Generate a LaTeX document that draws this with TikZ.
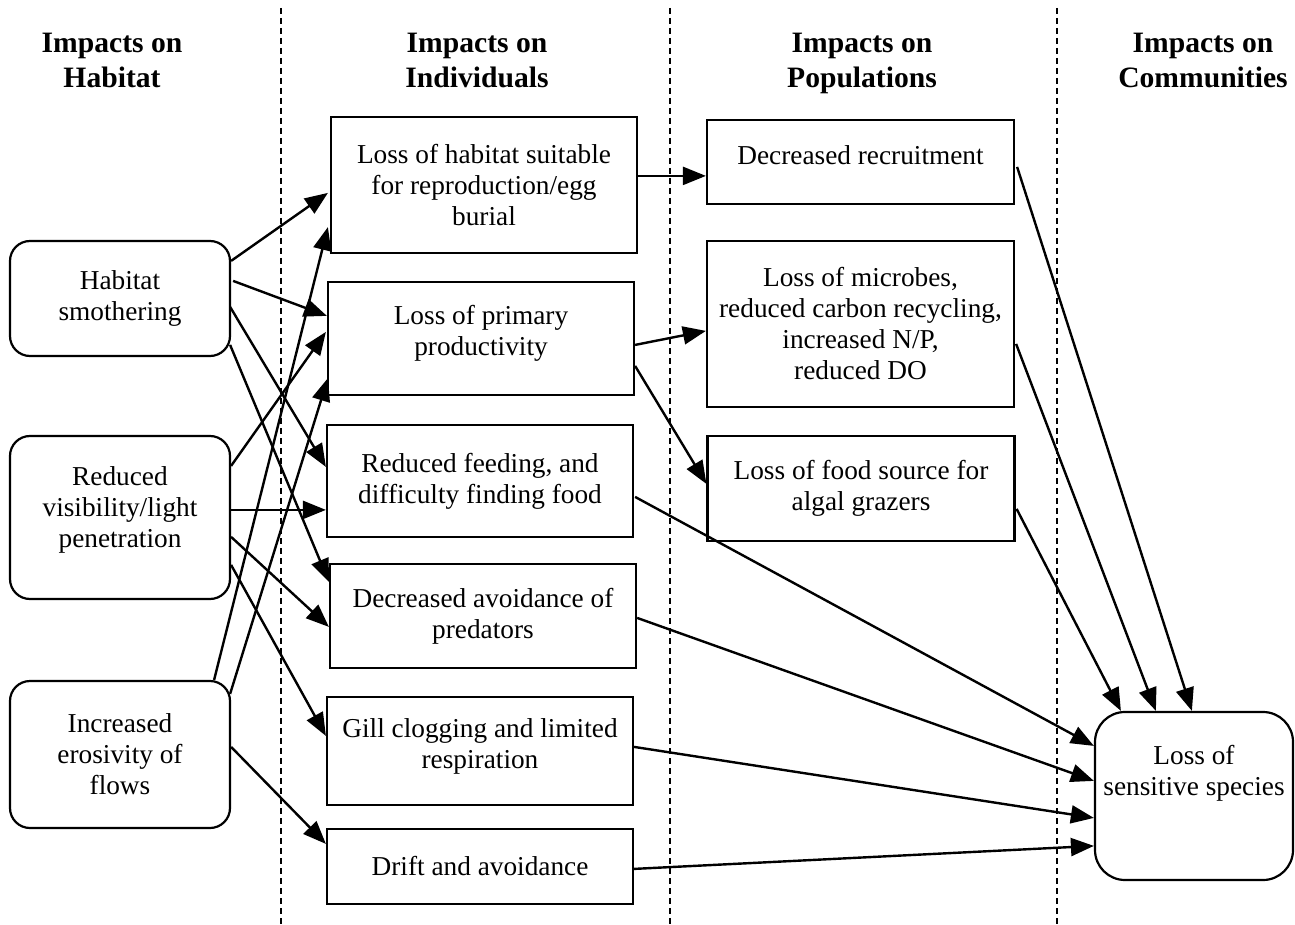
\documentclass[tikz,border=0pt]{standalone}
\usepackage{fontspec}
\setmainfont{Liberation Serif}
\usetikzlibrary{arrows.meta,calc}
\newcommand{\bodyfont}{\fontsize{27.3}{31}\selectfont}
\newcommand{\headfont}{\fontsize{29.6}{35}\selectfont\bfseries}
\begin{document}
\begin{tikzpicture}[x=1pt,y=-1pt,
  txt/.style={font=\bodyfont, align=center, inner sep=0pt},
  lbox/.style={draw, line width=2.2pt, rounded corners=20pt, inner sep=0pt, align=center, font=\bodyfont, minimum width=220pt},
  ibox/.style={draw, line width=2.2pt, inner sep=0pt, align=center, font=\bodyfont, minimum width=306pt},
  pbox/.style={draw, line width=2.2pt, inner sep=0pt, align=center, font=\bodyfont, minimum width=307pt},
  cbox/.style={draw, line width=2.2pt, rounded corners=30pt, inner sep=0pt, align=center, font=\bodyfont},
  head/.style={font=\headfont, anchor=base, inner sep=0pt},
  arr/.style={line width=2.4pt, -{Triangle[length=23pt,width=18pt]}},
  sepline/.style={line width=2pt, dash pattern=on 6pt off 4pt}
]
\useasboundingbox (0,0) rectangle (1295,925);

% separators
\coordinate (s1t) at (281,8);   \coordinate (s1b) at (281,925);
\coordinate (s2t) at (670,8);   \coordinate (s2b) at (670,925);
\coordinate (s3t) at (1057,8);  \coordinate (s3b) at (1057,925);
\draw[sepline] (s1t) -- (s1b);
\draw[sepline] (s2t) -- (s2b);
\draw[sepline] (s3t) -- (s3b);

% headings
\node[head] (h1a) at (112,53) {Impacts on};
\node[head] (h1b) at (112,88) {Habitat};
\node[head] (h2a) at (477,53) {Impacts on};
\node[head] (h2b) at (477,88) {Individuals};
\node[head] (h3a) at (862,53) {Impacts on};
\node[head] (h3b) at (862,88) {Populations};
\node[head] (h4a) at (1203,53) {Impacts on};
\node[head] (h4b) at (1203,88) {Communities};

% habitat
\node[lbox, minimum height=115pt] (hs) at (120,298.5) {Habitat\\smothering};
\node[lbox, minimum height=163pt, label={[txt,yshift=8pt]center:Reduced\\visibility/light\\penetration}] (rv) at (120,517.5) {};
\node[lbox, minimum height=147pt] (ie) at (120,754.5) {Increased\\erosivity of\\flows};

% individuals
\node[ibox, minimum height=136pt] (lh) at (484,185) {Loss of habitat suitable\\for reproduction/egg\\burial};
\node[ibox, minimum height=113pt, label={[txt,yshift=5pt]center:Loss of primary\\productivity}] (lp) at (481,338.5) {};
\node[ibox, minimum height=112pt] (rf) at (480,481) {Reduced feeding, and\\difficulty finding food};
\node[ibox, minimum height=104pt] (da) at (483,616) {Decreased avoidance of\\predators};
\node[ibox, minimum height=108pt, label={[txt,yshift=5pt]center:Gill clogging and limited\\respiration}] (gc) at (480,751) {};
\node[ibox, minimum height=75pt] (dr) at (480,866.5) {Drift and avoidance};

% populations
\node[pbox, minimum height=84pt, label={[txt,yshift=7pt]center:Decreased recruitment}] (rc) at (860.5,162) {};
\node[pbox, minimum height=166pt] (mi) at (860.5,324) {Loss of microbes,\\reduced carbon recycling,\\increased N/P,\\reduced DO};
\node[pbox, minimum height=105pt] (fs) at (861,488.5) {Loss of food source for\\algal grazers};

% communities
\node[cbox, minimum width=198pt, minimum height=168pt, label={[txt,yshift=23pt]center:Loss of\\sensitive species}] (ls) at (1194,796) {};

% habitat -> individuals
\draw[arr] ($(hs.north east)+(0,21)$)  -- ($(lh.north west)+(-2,77)$);
\draw[arr] ($(hs.north east)+(2,41)$)  -- ($(lp.north west)+(0,35)$);
\draw[arr] ($(hs.north east)+(-1,67)$) -- ($(rf.north west)+(0,43)$);
\draw[arr] ($(hs.north east)+(-1,105)$) -- ($(da.north west)+(0,19)$);
\draw[arr] ($(rv.north east)+(0,31)$)  -- ($(lp.north west)+(-1,51)$);
\draw[arr] ($(rv.north east)+(0,75)$)  -- ($(rf.north west)+(0,86)$);
\draw[arr] ($(rv.north east)+(0,102)$) -- ($(da.north west)+(0,64)$);
\draw[arr] ($(rv.north east)+(0,130)$) -- ($(gc.north west)+(0,40)$);
\draw[arr] ($(ie.north east)+(-17,0)$) -- ($(lh.south west)+(-2,-27)$);
\draw[arr] ($(ie.north east)+(-1,14)$) -- ($(lp.south west)+(1,-18)$);
\draw[arr] ($(ie.north east)+(0,67)$)  -- ($(dr.north west)+(0,16)$);

% individuals -> populations
\draw[arr] ($(lh.north east)+(0,60)$) -- ($(rc.north west)+(0,57)$);
\draw[arr] ($(lp.north east)+(0,64)$) -- ($(mi.north west)+(0,91)$);
\draw[arr] ($(lp.north east)+(0,85)$) -- ($(fs.north west)+(0,49)$);

% -> communities
\draw[arr] ($(rc.north east)+(2,48)$)  -- ($(ls.north west)+(98,0)$);
\draw[arr] ($(mi.north east)+(1,104)$) -- ($(ls.north west)+(62,0)$);
\draw[arr] ($(fs.north east)+(1,74)$)  -- ($(ls.north west)+(27,0)$);
\draw[arr] ($(rf.north east)+(1,73)$)  -- ($(ls.north west)+(0,35)$);
\draw[arr] ($(da.north east)+(0,55)$)  -- ($(ls.north west)+(0,70)$);
\draw[arr] ($(gc.north east)+(0,51)$)  -- ($(ls.north west)+(0,107)$);
\draw[arr] ($(dr.north east)+(0,41)$)  -- ($(ls.north west)+(0,135)$);
\end{tikzpicture}
\end{document}
